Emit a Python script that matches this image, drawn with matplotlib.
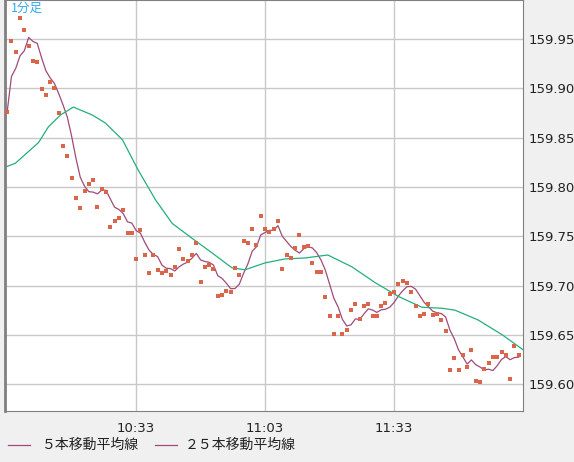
import numpy as np
import pandas as pd
import matplotlib.pyplot as plt

plt.rcParams['font.family'] = ['Noto Sans CJK JP', 'DejaVu Sans']

# 1-minute closes, 10:03 .. 12:02 (minutes after 10:00)
close = [159.876, 159.948, 159.937, 159.971, 159.959, 159.943, 159.928, 159.927, 159.899, 159.893,
         159.906, 159.900, 159.875, 159.842, 159.831, 159.809, 159.789, 159.779, 159.796, 159.803,
         159.807, 159.780, 159.798, 159.795, 159.759, 159.765, 159.769, 159.777, 159.753, 159.753,
         159.727, 159.756, 159.731, 159.713, 159.731, 159.716, 159.713, 159.715, 159.711, 159.719,
         159.737, 159.727, 159.725, 159.731, 159.743, 159.704, 159.719, 159.721, 159.717, 159.689,
         159.690, 159.695, 159.693, 159.718, 159.711, 159.745, 159.743, 159.757, 159.741, 159.771,
         159.757, 159.754, 159.757, 159.765, 159.717, 159.731, 159.728, 159.738, 159.751, 159.739,
         159.740, 159.723, 159.714, 159.714, 159.688, 159.669, 159.651, 159.669, 159.651, 159.655,
         159.675, 159.681, 159.666, 159.679, 159.681, 159.669, 159.669, 159.679, 159.682, 159.691,
         159.693, 159.702, 159.705, 159.703, 159.693, 159.679, 159.669, 159.671, 159.681, 159.670,
         159.671, 159.665, 159.654, 159.614, 159.627, 159.614, 159.630, 159.617, 159.635, 159.603,
         159.602, 159.615, 159.621, 159.628, 159.628, 159.633, 159.630, 159.605, 159.639, 159.630]
minutes = np.arange(3, 3 + len(close))

# 25MA
ma25_t = [2.5, 4.9, 10.3, 12.6, 15.4, 18.4, 22.8, 25.8, 29.8, 33.5, 37.5, 41.4, 46.0,
          50.7, 55.3, 58.3, 63.0, 67.6, 72.3, 77.6, 83.2, 88.6, 94.0, 99.5, 104.2, 107.2,
          112.6, 118.2, 123.3]
ma25_v = [159.820, 159.824, 159.845, 159.861, 159.873, 159.881, 159.873, 159.865, 159.848,
          159.817, 159.787, 159.763, 159.748, 159.733, 159.718, 159.716, 159.723, 159.727,
          159.728, 159.731, 159.719, 159.703, 159.689, 159.678, 159.677, 159.675, 159.665,
          159.650, 159.634]

ma5 = pd.Series(close).rolling(5, min_periods=1).mean()

ticks_y = [159.60, 159.65, 159.70, 159.75, 159.80, 159.85, 159.90, 159.95]
ticks_x = [33, 63, 93]
ticks_xl = ['10:33', '11:03', '11:33']

fig = plt.figure(figsize=(5.74, 4.62), dpi=100, facecolor='#f0f0f0')
ax = fig.add_axes([5/574, 51/462, 518/574, 411/462])
ax.set_facecolor('white')
ax.plot(minutes, ma5, color='#a04a78', lw=0.9)
ax.plot(ma25_t, ma25_v, color='#22b07a', lw=0.9)
ax.scatter(minutes, close, marker='s', s=7, color='#d9654a', zorder=3, linewidths=0)
ax.set_xlim(2.5, 123)
ax.set_ylim(159.5728, 159.9896)
ax.set_yticks(ticks_y)
ax.set_yticklabels([f'{v:.2f}' for v in ticks_y])
ax.set_xticks(ticks_x)
ax.set_xticklabels(ticks_xl)
ax.yaxis.tick_right()
ax.tick_params(length=0, labelsize=9.5, colors='#222222', pad=4)
ax.tick_params(axis='x', pad=8)
for lbl in ax.get_yticklabels() + ax.get_xticklabels():
    lbl.set_family('DejaVu Sans')
ax.grid(color='#c8c8c8', lw=1)
ax.set_axisbelow(True)
for s in ax.spines.values():
    s.set_color('#808080')
ax.spines['left'].set_linewidth(2)
ax.text(0.012, 0.995, '1分足', transform=ax.transAxes, color='#33aaee', fontsize=9, va='top')

fig.lines.append(plt.Line2D([8/574, 30/574], [17/462, 17/462], color='#a04a78', lw=0.9, transform=fig.transFigure))
fig.text(42/574, 17/462, '５本移動平均線', fontsize=10, va='center', color='#222222')
fig.lines.append(plt.Line2D([155/574, 177/574], [17/462, 17/462], color='#a04a78', lw=0.9, transform=fig.transFigure))
fig.text(185/574, 17/462, '２５本移動平均線', fontsize=10, va='center', color='#222222')

fig.savefig('out.png', dpi=100, facecolor=fig.get_facecolor())
